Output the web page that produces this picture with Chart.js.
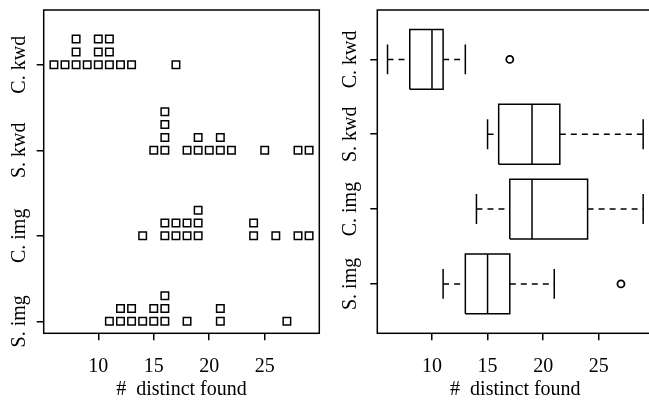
<!doctype html>
<html lang="en">
<head>
<meta charset="utf-8" />
<title># distinct found</title>
<style>
  html, body { margin: 0; padding: 0; background: #fff; overflow: hidden; }
  .panel { position: absolute; top: 0; }
  #stripChart { left: 0; }
  #boxChart { left: 340px; }
</style>
</head>
<body>
<canvas class="panel" id="stripChart" width="340" height="405"></canvas>
<canvas class="panel" id="boxChart" width="320" height="405"></canvas>
<script src="https://cdn.jsdelivr.net/npm/chart.js@4.4.1/dist/chart.umd.min.js"></script>
<script>
  // groups from bottom to top
  var groups = ['S. img', 'C. img', 'S. kwd', 'C. kwd'];
  var sImg = [11, 12, 12, 13, 13, 14, 15, 15, 16, 16, 16, 18, 21, 21, 27];
  var cImg = [14, 16, 16, 17, 17, 18, 18, 19, 19, 19, 24, 24, 26, 28, 29];
  var sKwd = [15, 16, 16, 16, 16, 18, 19, 19, 20, 21, 21, 22, 25, 28, 29];
  var cKwd = [6, 7, 8, 8, 8, 9, 10, 10, 10, 11, 11, 11, 12, 13, 17];
  var xTicks = [10, 15, 20, 25];
  var groupValues = [sImg, cImg, sKwd, cKwd];

  var serif = "'Liberation Serif', 'DejaVu Serif', serif";
  var stackStep = 0.15;

  Chart.defaults.font.family = serif;
  Chart.defaults.color = '#000';

  // draws the frame and the rotated group names
  var frameAndLabels = {
    id: 'frameAndLabels',
    afterDraw: function (chart, args, opts) {
      var ctx = chart.ctx;
      var a = chart.chartArea;
      ctx.save();
      ctx.strokeStyle = '#000';
      ctx.lineWidth = 1.5;
      ctx.strokeRect(a.left, a.top, a.right - a.left, a.bottom - a.top);
      ctx.fillStyle = '#000';
      ctx.font = '20px ' + serif;
      ctx.textAlign = 'center';
      ctx.textBaseline = 'alphabetic';
      groups.forEach(function (name, i) {
        var y = chart.scales.y.getPixelForValue(i + 1);
        ctx.save();
        ctx.translate(a.left - opts.offset, y);
        ctx.rotate(-Math.PI / 2);
        ctx.fillText(name, 0, 0);
        ctx.restore();
      });
      ctx.restore();
    }
  };

  function xAxis(min, max) {
    return {
      type: 'linear',
      min: min,
      max: max,
      afterBuildTicks: function (s) { s.ticks = xTicks.map(function (v) { return { value: v }; }); },
      afterFit: function (s) { s.height = 71.7; },
      border: { display: false },
      grid: { drawOnChartArea: false, drawTicks: true, tickLength: 7, color: '#000', lineWidth: 1.5 },
      ticks: { font: { family: serif, size: 20 }, color: '#000', padding: 14, maxRotation: 0 },
      title: {
        display: true, text: '#  distinct found', color: '#000',
        font: { family: serif, size: 20 }, padding: { top: 0, bottom: 3 }
      }
    };
  }

  function yAxis(min, max, width) {
    return {
      type: 'linear',
      min: min,
      max: max,
      afterBuildTicks: function (s) { s.ticks = groups.map(function (g, i) { return { value: i + 1 }; }); },
      afterFit: function (s) { s.width = width; },
      border: { display: false },
      grid: { drawOnChartArea: false, drawTicks: true, tickLength: 7, color: '#000', lineWidth: 1.5 },
      ticks: { display: false }
    };
  }

  // left panel: stacked strip chart
  function stackPoints(vals, level) {
    var seen = {};
    return vals.map(function (v) {
      var k = seen[v] || 0;
      seen[v] = k + 1;
      return { x: v, y: level + k * stackStep };
    });
  }

  new Chart(document.getElementById('stripChart'), {
    type: 'scatter',
    data: {
      datasets: groupValues.map(function (vals, i) {
        return {
          label: groups[i],
          data: stackPoints(vals, i + 1),
          pointStyle: 'rect',
          pointRadius: 5.3,
          borderColor: '#000',
          backgroundColor: 'rgba(0,0,0,0)',
          borderWidth: 1.5
        };
      })
    },
    options: {
      responsive: false,
      animation: false,
      events: [],
      layout: { padding: { left: 0, right: 20.7, top: 10, bottom: 0 } },
      plugins: { legend: { display: false }, tooltip: { enabled: false }, frameAndLabels: { offset: 18.7 } },
      scales: { x: xAxis(5.08, 29.92), y: yAxis(0.86, 4.64, 43.7) }
    },
    plugins: [frameAndLabels]
  });

  // right panel: boxplots (Tukey hinges, 1.5 IQR whiskers)
  function boxStats(vals) {
    var s = vals.slice().sort(function (a, b) { return a - b; });
    var n = s.length;
    var n4 = Math.floor((n + 3) / 2) / 2;
    var at = function (d) { return 0.5 * (s[Math.floor(d) - 1] + s[Math.ceil(d) - 1]); };
    var q1 = at(n4), med = at((n + 1) / 2), q3 = at(n + 1 - n4);
    var iqr = q3 - q1;
    var inside = s.filter(function (v) { return v >= q1 - 1.5 * iqr && v <= q3 + 1.5 * iqr; });
    return {
      q1: q1, med: med, q3: q3,
      lo: inside[0], hi: inside[inside.length - 1],
      out: s.filter(function (v) { return v < q1 - 1.5 * iqr || v > q3 + 1.5 * iqr; })
    };
  }

  var half = 0.4, capHalf = 0.2;
  var solid = { showLine: true, pointRadius: 0, borderColor: '#000', borderWidth: 1.5, fill: false };
  var boxSets = [];
  groupValues.forEach(function (vals, i) {
    var b = boxStats(vals);
    var y = i + 1;
    boxSets.push(Object.assign({}, solid, { data: [
      { x: b.q1, y: y - half }, { x: b.q3, y: y - half }, { x: b.q3, y: y + half },
      { x: b.q1, y: y + half }, { x: b.q1, y: y - half }] }));
    boxSets.push(Object.assign({}, solid, { data: [{ x: b.med, y: y - half }, { x: b.med, y: y + half }] }));
    boxSets.push(Object.assign({}, solid, { borderDash: [6, 5], data: [{ x: b.lo, y: y }, { x: b.q1, y: y }] }));
    boxSets.push(Object.assign({}, solid, { borderDash: [6, 5], data: [{ x: b.q3, y: y }, { x: b.hi, y: y }] }));
    boxSets.push(Object.assign({}, solid, { data: [{ x: b.lo, y: y - capHalf }, { x: b.lo, y: y + capHalf }] }));
    boxSets.push(Object.assign({}, solid, { data: [{ x: b.hi, y: y - capHalf }, { x: b.hi, y: y + capHalf }] }));
    if (b.out.length) {
      boxSets.push({
        data: b.out.map(function (v) { return { x: v, y: y }; }),
        pointStyle: 'circle', pointRadius: 3.5, borderColor: '#000',
        backgroundColor: 'rgba(0,0,0,0)', borderWidth: 1.8, showLine: false
      });
    }
  });

  new Chart(document.getElementById('boxChart'), {
    type: 'scatter',
    data: { datasets: boxSets },
    options: {
      responsive: false,
      animation: false,
      events: [],
      layout: { padding: { left: 0, right: 6.6, top: 10, bottom: 0 } },
      plugins: { legend: { display: false }, tooltip: { enabled: false }, frameAndLabels: { offset: 21.3 } },
      scales: { x: xAxis(5.08, 29.92), y: yAxis(0.34, 4.66, 37.3) }
    },
    plugins: [frameAndLabels]
  });
</script>
</body>
</html>
